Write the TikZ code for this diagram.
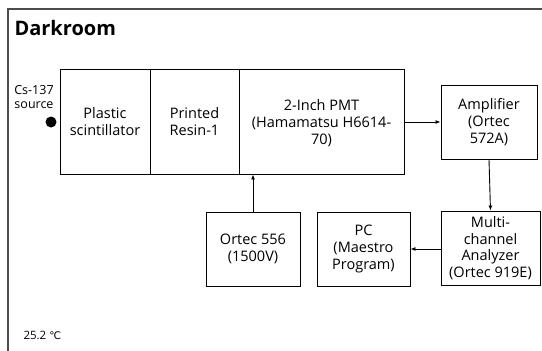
\documentclass[tikz,border=0pt]{standalone}
\usepackage{fontspec}
\setmainfont{Open Sans}
\newfontfamily\dejavu{DejaVu Sans}
\usetikzlibrary{arrows.meta}
\begin{document}
\begin{tikzpicture}[x=1pt,y=-1pt,
  blk/.style={draw,line width=0.9pt,minimum width=#1,align=center,font=\fontsize{14.5}{16.7}\selectfont,inner sep=0pt},
  conn/.style={line width=0.9pt,-{Latex[length=5pt,width=4pt]}}]
\useasboundingbox (0,0) rectangle (542,351);
\draw[line width=1.2pt,gray!60!black] (8,351) -- (8,9) -- (542,9);
\node[anchor=west,font=\fontsize{20}{24}\selectfont\bfseries] (title) at (11,28) {Darkroom};
% main box
\node[blk=90pt,minimum height=105pt] (ps) at (105,121.5) {Plastic\\scintillator};
\node[blk=89pt,minimum height=105pt] (pr) at (194.5,121.5) {Printed\\Resin-1};
\node[blk=165pt,minimum height=105pt] (pmt) at (321.5,121.5) {};
\node[align=center,font=\fontsize{14.5}{16.7}\selectfont] (pmtt) at (321.5,123) {2-Inch PMT\\(Hamamatsu H6614-\\70)};
\node[align=center,font=\fontsize{12.5}{14}\selectfont] (src) at (34,97) {Cs-137\\source};
\fill (51,122) circle (5.5pt) coordinate (dot);
\node[blk=96pt,minimum height=74pt] (amp) at (489,122) {Amplifier\\(Ortec\\572A)};
\node[blk=99pt,minimum height=74pt] (mca) at (490.5,248) {Multi-\\channel\\Analyzer\\(Ortec 919E)};
\node[blk=93pt,minimum height=74pt] (pc) at (363.5,249) {PC\\(Maestro\\Program)};
\node[blk=94pt,minimum height=74pt] (hv) at (253,249) {Ortec 556\\(1500V)};
\draw[conn] (pmt.east |- amp.west) -- (amp.west);
\draw[conn] (amp.south) -- (mca.north);
\draw[conn] (mca.west |- pc.east) -- (pc.east);
\draw[conn] (hv.north) -- (hv.north |- pmt.south);
\node[anchor=west,font=\fontsize{11.5}{13}\selectfont] (temp) at (20,335) {25.2 {\dejavu\fontsize{10.5}{12}\selectfont ℃}};
\end{tikzpicture}
\end{document}
